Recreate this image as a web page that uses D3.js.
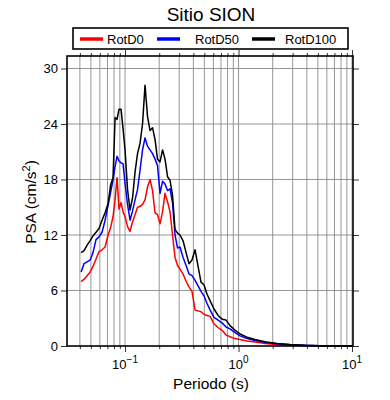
<!DOCTYPE html>
<html>
<head>
<meta charset="utf-8">
<script src="https://cdn.jsdelivr.net/npm/d3@7"></script>
<style>
  body { margin: 0; background: #fff; }
  text { font-family: "Liberation Sans", Arial, sans-serif; fill: #000; }
</style>
</head>
<body>
<div id="chart"></div>
<script>
// periods (s) and spectral values
const periods = [0.041, 0.0435, 0.0463, 0.0493, 0.0522, 0.0555, 0.059, 0.0627, 0.0667, 0.0709,
  0.0746, 0.0784, 0.0817, 0.085, 0.0885, 0.0922, 0.096, 0.1, 0.1052, 0.1107,
  0.1164, 0.1225, 0.1288, 0.1355, 0.1426, 0.15, 0.1578, 0.166, 0.1747, 0.1838,
  0.1933, 0.2034, 0.214, 0.2251, 0.2368, 0.2491, 0.262, 0.2757, 0.29, 0.305,
  0.324, 0.345, 0.366, 0.389, 0.414, 0.44, 0.467, 0.497, 0.528, 0.561,
  0.608, 0.66, 0.716, 0.776, 0.842, 0.932, 1.031, 1.188, 1.398, 1.712,
  2.18, 2.84, 3.85, 5.22, 7.23, 10];

const rotD100 = [10.1, 10.3, 10.9, 11.4, 11.9, 12.3, 12.7, 13.6, 14.4, 15.4,
  17.4, 18.2, 24.7, 24.5, 25.6, 25.6, 23.5, 21.2, 16.9, 14.7,
  16.0, 18.8, 20.8, 21.9, 24.0, 28.2, 24.8, 23.3, 23.6, 22.3,
  20.2, 19.9, 21.2, 20.2, 18.3, 17.9, 16.3, 12.6, 12.2, 12.0,
  11.4, 10.1, 8.9, 9.3, 10.4, 8.6, 6.9, 6.6, 5.6, 4.9,
  4.0, 3.3, 2.9, 2.8, 2.2, 1.7, 1.3, 0.95, 0.7, 0.45,
  0.28, 0.16, 0.08, 0.04, 0.02, 0.01];

const rotD50 = [8.0, 8.9, 9.1, 9.3, 10.1, 11.5, 11.8, 12.3, 13.6, 15.2,
  16.6, 18.0, 19.4, 20.5, 20.0, 19.8, 19.7, 17.6, 15.3, 13.6,
  14.6, 15.8, 16.9, 19.0, 21.2, 22.5, 21.6, 21.2, 20.8, 20.2,
  19.5, 16.5, 17.8, 17.5, 16.8, 17.0, 15.5, 12.0, 10.6, 10.7,
  9.6, 8.7, 7.8, 7.6, 7.1, 6.5, 5.9, 5.4, 4.6, 3.9,
  3.1, 2.8, 2.5, 2.05, 1.85, 1.45, 1.1, 0.8, 0.6, 0.38,
  0.24, 0.13, 0.07, 0.03, 0.015, 0.01];

const rotD0 = [6.95, 7.2, 7.6, 8.0, 8.6, 9.4, 10.2, 10.4, 10.7, 12.0,
  12.8, 14.0, 15.8, 18.2, 14.8, 15.5, 14.5, 14.0, 12.9, 12.4,
  13.4, 14.2, 15.0, 15.1, 15.3, 15.8, 17.2, 18.0, 16.8, 14.4,
  14.2, 13.2, 14.5, 16.5, 15.6, 14.5, 12.0, 9.6, 8.7, 8.3,
  7.8, 7.0, 6.4, 5.9, 3.9, 3.8, 3.7, 3.4, 3.3, 3.2,
  2.4, 2.0, 1.7, 1.2, 1.0, 0.8, 0.7, 0.55, 0.42, 0.28,
  0.15, 0.08, 0.04, 0.02, 0.01, 0.005];

const seriesNames = ["RotD0", "RotD50", "RotD100"];
const seriesColors = ["#ff0000", "#0000ff", "#000000"];
const yTicks = [0, 6, 12, 18, 24, 30];
const xMajorTicks = [0.1, 1, 10];
const xTickExps = ["\u22121", "0", "1"];

const W = 390, H = 400;
const mLeft = 67, mRight = 353, mTop = 56, mBottom = 346;

const svg = d3.select("#chart").append("svg")
  .attr("width", W)
  .attr("height", H);

const x = d3.scaleLog()
  .domain([0.0308, 10.2])
  .range([mLeft, mRight]);

const y = d3.scaleLinear()
  .domain([0, 31.35])
  .range([mBottom, mTop]);

// minor + major ticks across the log range
const xAll = [];
for (let e = -2; e <= 1; e++) {
  for (let m = 1; m <= 9; m++) {
    const v = m * Math.pow(10, e);
    if (v >= x.domain()[0] && v <= x.domain()[1]) xAll.push(v);
  }
}

// grid
const grid = svg.append("g").attr("stroke", "#8a8a8a").attr("stroke-width", 0.9);
grid.selectAll("line.vx")
  .data(xAll)
  .join("line")
  .attr("class", "vx")
  .attr("x1", d => x(d)).attr("x2", d => x(d))
  .attr("y1", mTop).attr("y2", mBottom);
grid.selectAll("line.hy")
  .data(yTicks.filter(d => d > 0))
  .join("line")
  .attr("class", "hy")
  .attr("x1", mLeft).attr("x2", mRight)
  .attr("y1", d => y(d)).attr("y2", d => y(d));

// series
const series = [rotD0, rotD50, rotD100];
const line = d3.line()
  .x(d => x(d[0]))
  .y(d => y(d[1]));

svg.append("g")
  .selectAll("path")
  .data(series)
  .join("path")
  .attr("d", s => line(periods.map((p, i) => [p, s[i]])))
  .attr("fill", "none")
  .attr("stroke", (s, i) => seriesColors[i])
  .attr("stroke-width", 1.5)
  .attr("stroke-linejoin", "round");

// axes (ticks outward on every side)
const axisBottom = d3.axisBottom(x).tickValues(xAll)
  .tickSizeInner(3).tickSizeOuter(0).tickFormat("");
const axisTop = d3.axisTop(x).tickValues(xAll)
  .tickSizeInner(3).tickSizeOuter(0).tickFormat("");

const gb = svg.append("g")
  .attr("transform", `translate(0, ${mBottom})`)
  .call(axisBottom);
gb.selectAll(".tick line")
  .attr("y2", d => xMajorTicks.includes(d) ? 6 : 3);

const gt = svg.append("g")
  .attr("transform", `translate(0, ${mTop})`)
  .call(axisTop);
gt.selectAll(".tick line")
  .attr("y2", d => xMajorTicks.includes(d) ? -6 : -3);

svg.append("g")
  .attr("transform", `translate(${mLeft}, 0)`)
  .call(d3.axisLeft(y).tickValues(yTicks).tickSizeInner(6).tickSizeOuter(0))
  .call(g => g.selectAll("text")
    .attr("font-size", 13)
    .attr("font-family", "Liberation Sans, Arial, sans-serif")
    .attr("x", -9));

svg.append("g")
  .attr("transform", `translate(${mRight}, 0)`)
  .call(d3.axisRight(y).tickValues(yTicks).tickSizeInner(6).tickSizeOuter(0).tickFormat(""));

svg.selectAll(".domain").remove();
svg.selectAll(".tick line").attr("stroke", "#000").attr("stroke-width", 0.8);

// frame
svg.append("rect")
  .attr("x", mLeft).attr("y", mTop)
  .attr("width", mRight - mLeft).attr("height", mBottom - mTop)
  .attr("fill", "none")
  .attr("stroke", "#000")
  .attr("stroke-width", 1.6);

// x tick labels 10^n
const xl = svg.append("g").selectAll("text")
  .data(xMajorTicks)
  .join("text")
  .attr("x", d => x(d))
  .attr("y", 369)
  .attr("text-anchor", "middle")
  .attr("font-size", 13);
xl.append("tspan").text("10");
xl.append("tspan")
  .attr("dy", -6)
  .attr("font-size", 10)
  .text((d, i) => xTickExps[i]);

// axis titles
svg.append("text")
  .attr("x", 211).attr("y", 389)
  .attr("text-anchor", "middle")
  .attr("font-size", 15.5)
  .text("Periodo (s)");

const yl = svg.append("text")
  .attr("transform", "translate(36, 202) rotate(-90)")
  .attr("text-anchor", "middle")
  .attr("font-size", 15.5);
yl.append("tspan").text("PSA (cm/s");
yl.append("tspan").attr("dy", -6).attr("font-size", 11).text("2");
yl.append("tspan").attr("dy", 6).text(")");

// title
svg.append("text")
  .attr("x", 211).attr("y", 21)
  .attr("text-anchor", "middle")
  .attr("font-size", 19)
  .text("Sitio SION");

// legend
const lg = svg.append("g");
lg.append("rect")
  .attr("x", 73).attr("y", 28)
  .attr("width", 275).attr("height", 21)
  .attr("fill", "#fff")
  .attr("stroke", "#000")
  .attr("stroke-width", 1.6);

const legendX = [80, 157, 252];
const legendTextX = [107, 195, 285];
const items = lg.selectAll("g.item")
  .data(seriesNames)
  .join("g");
items.append("line")
  .attr("x1", (d, i) => legendX[i])
  .attr("x2", (d, i) => legendX[i] + 23)
  .attr("y1", 39).attr("y2", 39)
  .attr("stroke", (d, i) => seriesColors[i])
  .attr("stroke-width", 3.5);
items.append("text")
  .attr("x", (d, i) => legendTextX[i])
  .attr("y", 44)
  .attr("font-size", 13)
  .text(d => d);
</script>
</body>
</html>
